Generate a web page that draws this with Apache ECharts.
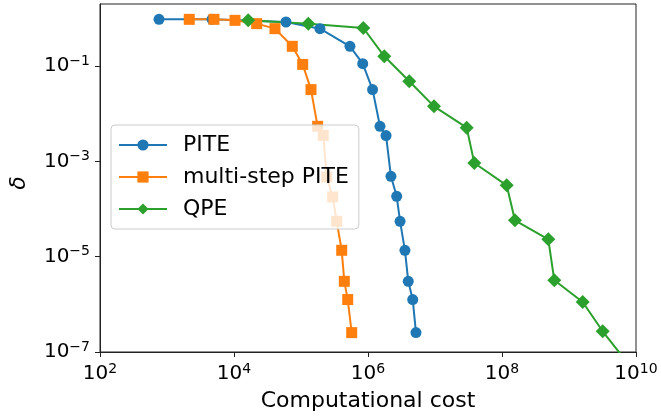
<!DOCTYPE html>
<html>
<head>
<meta charset="utf-8">
<script src="https://cdn.jsdelivr.net/npm/echarts@6/dist/echarts.min.js"></script>
<style>html,body{margin:0;padding:0;background:#fff;}#c{width:661px;height:418px;}</style>
</head>
<body>
<div id="c"></div>
<script>
// PITE
const piteCost = [760, 4700, 59700, 192000, 538000, 834000, 1.17e6, 1.51e6, 1.86e6, 2.20e6, 2.68e6, 3.01e6, 3.56e6, 3.99e6, 4.65e6, 5.20e6];
const piteDelta = [0.953, 0.953, 0.838, 0.608, 0.259, 0.112, 0.032, 5.43e-3, 3.47e-3, 4.85e-4, 1.85e-4, 5.52e-5, 1.36e-5, 3.04e-6, 1.26e-6, 2.55e-7];
// multi-step PITE
const msCost = [2150, 5020, 10350, 21800, 40900, 74100, 106000, 141000, 177000, 215000, 242000, 297000, 341000, 405000, 443000, 498000, 571000];
const msDelta = [0.953, 0.953, 0.908, 0.774, 0.608, 0.259, 0.108, 0.032, 5.43e-3, 3.5e-3, 4.69e-4, 1.79e-4, 5.52e-5, 1.36e-5, 3.04e-6, 1.26e-6, 2.55e-7];
// QPE
const qpeCost = [16300, 128600, 851000, 1.75e6, 4.13e6, 9.66e6, 2.97e7, 3.86e7, 1.175e8, 1.56e8, 4.91e8, 6.04e8, 1.60e9, 3.18e9, 8.7e9];
const qpeDelta = [0.908, 0.774, 0.627, 0.160, 0.0478, 0.01425, 5.09e-3, 9.23e-4, 3.14e-4, 5.80e-5, 2.31e-5, 3.19e-6, 1.12e-6, 2.72e-7, 4.5e-8];

const seriesNames = ['PITE', 'multi-step PITE', 'QPE'];
const colors = ['#1f77b4', '#ff7f0e', '#2ca02c'];

function pairs(xs, ys) { return xs.map((x, i) => [x, ys[i]]); }

const FONT = 'DejaVu Sans';
function powLabel(v) {
  const e = Math.round(Math.log10(v));
  const s = e < 0 ? '\u2212' + Math.abs(e) : String(e);
  return '{b|10}{s|' + s + '}';
}
const rich = {
  b: { fontSize: 20, fontFamily: FONT, color: '#000', lineHeight: 24 },
  s: { fontSize: 14, fontFamily: FONT, color: '#000', lineHeight: 10, verticalAlign: 'top' }
};

const chart = echarts.init(document.getElementById('c'));
chart.setOption({
  animation: false,
  backgroundColor: '#fff',
  color: colors,
  grid: { left: 100, right: 25, top: 4, bottom: 66, show: true, borderColor: '#222', borderWidth: 1, backgroundColor: 'transparent' },
  legend: {
    orient: 'vertical', left: 111, top: 125,
    data: seriesNames,
    itemWidth: 48, itemHeight: 14, itemGap: 10,
    padding: [9, 10, 9, 7],
    backgroundColor: 'rgba(255,255,255,0.8)',
    borderColor: '#cccccc', borderWidth: 1, borderRadius: 4,
    textStyle: { fontSize: 22, fontFamily: FONT, color: '#000', padding: [0, 0, 0, 11] }
  },
  xAxis: {
    type: 'log', logBase: 10, min: 1e2, max: 1e10, interval: 2,
    name: 'Computational cost', nameLocation: 'middle', nameGap: 38,
    nameTextStyle: { fontSize: 22, fontFamily: FONT, color: '#000' },
    axisLine: { show: true, lineStyle: { color: '#222', width: 1 } },
    axisTick: { show: true, inside: false, length: 5, lineStyle: { color: '#222' } },
    axisLabel: { margin: 10, formatter: powLabel, rich: rich },
    splitLine: { show: false }, minorTick: { show: false }
  },
  yAxis: {
    type: 'log', logBase: 10, min: 1e-7, max: 2, interval: 2,
    name: 'δ', nameLocation: 'middle', nameGap: 70, nameRotate: 90,
    nameTextStyle: { fontSize: 22, fontFamily: FONT, color: '#000', fontStyle: 'italic', padding: [0, 10, 0, 0] },
    axisLine: { show: true, lineStyle: { color: '#222', width: 1 } },
    axisTick: { show: true, inside: false, length: 5, lineStyle: { color: '#222' } },
    axisLabel: { margin: 10, formatter: powLabel, rich: rich, showMaxLabel: false },
    splitLine: { show: false }, minorTick: { show: false }
  },
  series: [
    { name: seriesNames[0], type: 'line', data: pairs(piteCost, piteDelta), symbol: 'circle', symbolSize: 11, lineStyle: { width: 2 }, clip: true },
    { name: seriesNames[1], type: 'line', data: pairs(msCost, msDelta), symbol: 'rect', symbolSize: 11, lineStyle: { width: 2 }, clip: true },
    { name: seriesNames[2], type: 'line', data: pairs(qpeCost, qpeDelta), symbol: 'diamond', symbolSize: 14, lineStyle: { width: 2 }, clip: true }
  ]
});
</script>
</body>
</html>
